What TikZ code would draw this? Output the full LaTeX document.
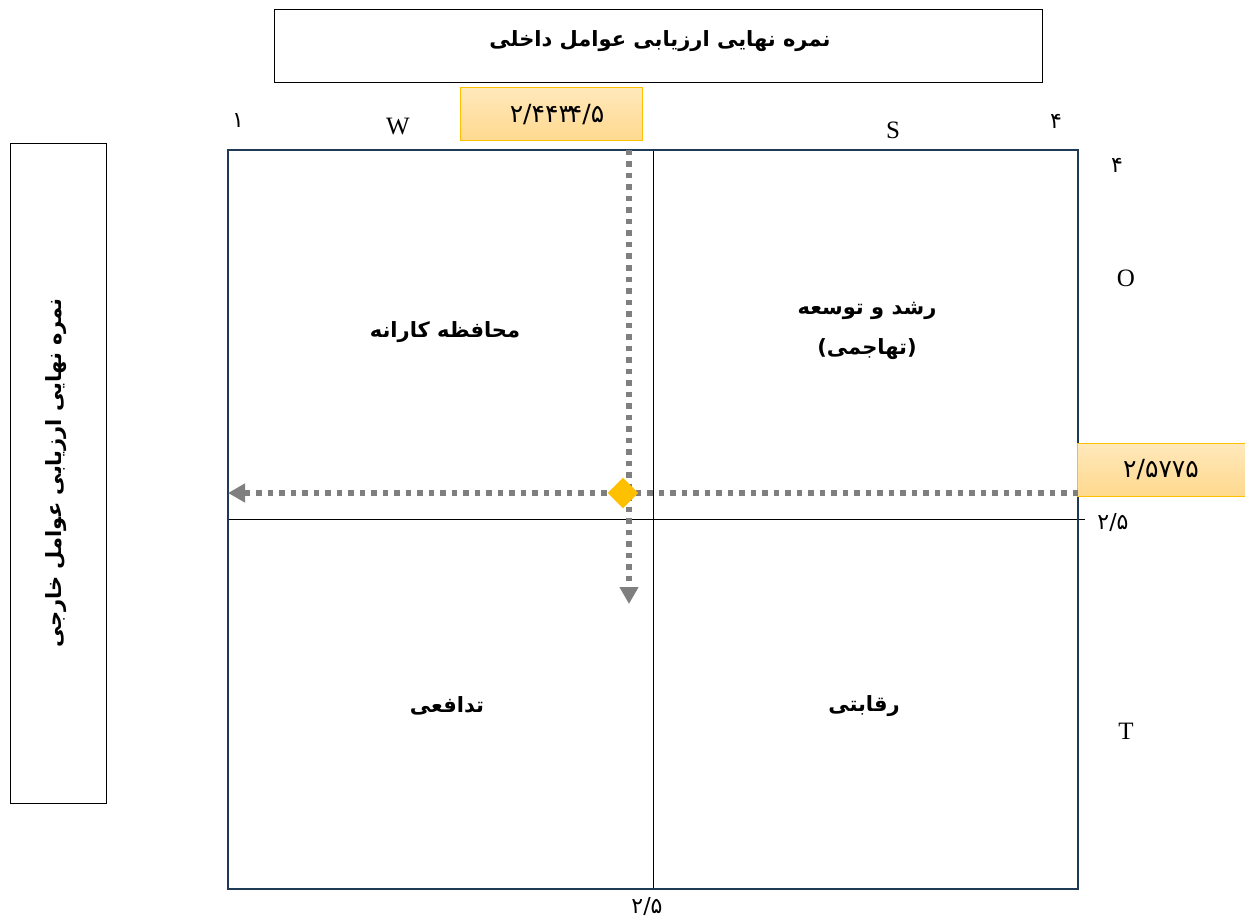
\documentclass[tikz,border=0pt]{standalone}
\usepackage{fontspec}
\setmainfont{Liberation Serif}
\newfontfamily\arabicfont[Script=Arabic]{DejaVu Sans}
\newfontfamily\digitfont{DejaVu Sans}
\TeXXeTstate=1
\usetikzlibrary{shapes.geometric,arrows.meta}
\definecolor{frameblue}{HTML}{1F3A56}
\definecolor{gold}{HTML}{FFC000}
\definecolor{lightgold}{HTML}{FFD98E}
\definecolor{dotgray}{HTML}{7F7F7F}
\tikzset{
  titlebox/.style={draw=black, line width=1pt, inner sep=0pt},
  artext/.style={font=\arabicfont\bfseries\fontsize{21}{25}\selectfont},
  quadtext/.style={font=\arabicfont\bfseries\fontsize{21}{40}\selectfont, align=center},
  numtext/.style={font=\digitfont\fontsize{22}{24}\selectfont},
  lettertext/.style={font=\fontsize{25}{28}\selectfont},
  valbox/.style={draw=gold, line width=1pt, top color=lightgold!60!white, bottom color=lightgold, inner sep=0pt, font=\digitfont\fontsize{25}{28}\selectfont},
  dotarrow/.style={draw=dotgray, line width=5.5pt, dash pattern=on 5.5pt off 6pt, -{Triangle[length=17pt,width=18pt]}},
}
\begin{document}
\begin{tikzpicture}[x=1pt,y=-1pt]
\useasboundingbox (0,0) rectangle (1245,920);
% title boxes
\node[titlebox, minimum width=768pt, minimum height=73pt] (top) at (658,46.5) {};
\node[artext] (toptext) at (660,41) {\beginR نمره نهایی ارزیابی عوامل داخلی\endR};
\node[titlebox, minimum width=96pt, minimum height=659pt] (left) at (58,473.5) {};
\node[artext, rotate=90] (lefttext) at (56,473) {\beginR نمره نهایی ارزیابی عوامل خارجی\endR};
% main square
\coordinate (tl) at (228,150);
\coordinate (br) at (1078,889);
\coordinate (midtop) at (653,150);
\coordinate (midbot) at (653,889);
\coordinate (midleft) at (228,519);
\coordinate (midright) at (1085,519);
\draw[black, line width=0.9pt] (midtop) -- (midbot);
\draw[black, line width=0.9pt] (midleft) -- (midright);
\draw[frameblue, line width=2.5pt] (tl) rectangle (br);
% quadrant labels
\node[quadtext] (q1) at (445,332) {\beginR محافظه کارانه\endR};
\node[quadtext] (q2) at (867,331) {\beginR رشد و توسعه\endR\\\beginR (تهاجمی)\endR};
\node[quadtext] (q3) at (447,706) {\beginR تدافعی\endR};
\node[quadtext] (q4) at (864,706) {\beginR رقابتی\endR};
% axis labels
\node[numtext] (n1) at (238,121) {۱};
\node[lettertext] (W) at (398,127) {W};
\node[lettertext] (S) at (893,130) {S};
\node[numtext] (n4a) at (1056,121) {۴};
\node[numtext] (n4b) at (1117,165) {۴};
\node[lettertext] (O) at (1126,278) {O};
\node[lettertext] (T) at (1126,731) {T};
\node[numtext] (h25) at (1113,522) {۲/۵};
\node[numtext] (v25) at (647,906) {۲/۵};
% value boxes
\node[valbox, minimum width=182pt, minimum height=53pt] (vx) at (551,114.5) {\kern12pt۲/۴۴۳\kern-3pt۴/۵};
\node[valbox, minimum width=168pt, minimum height=53pt] (vy) at (1161,469.5) {۲/۵۷۷۵};
% dotted arrows
\coordinate (vstart) at (629,150);
\coordinate (vend) at (629,604);
\coordinate (hstart) at (1078,493);
\coordinate (hend) at (228,493);
\draw[dotarrow] (hstart) -- (hend);
\draw[dotarrow] (vstart) -- (vend);
\node[diamond, fill=gold, draw=gold!90!orange, minimum width=30pt, minimum height=30pt, inner sep=0pt] (pt) at (623,493) {};
\end{tikzpicture}
\end{document}
